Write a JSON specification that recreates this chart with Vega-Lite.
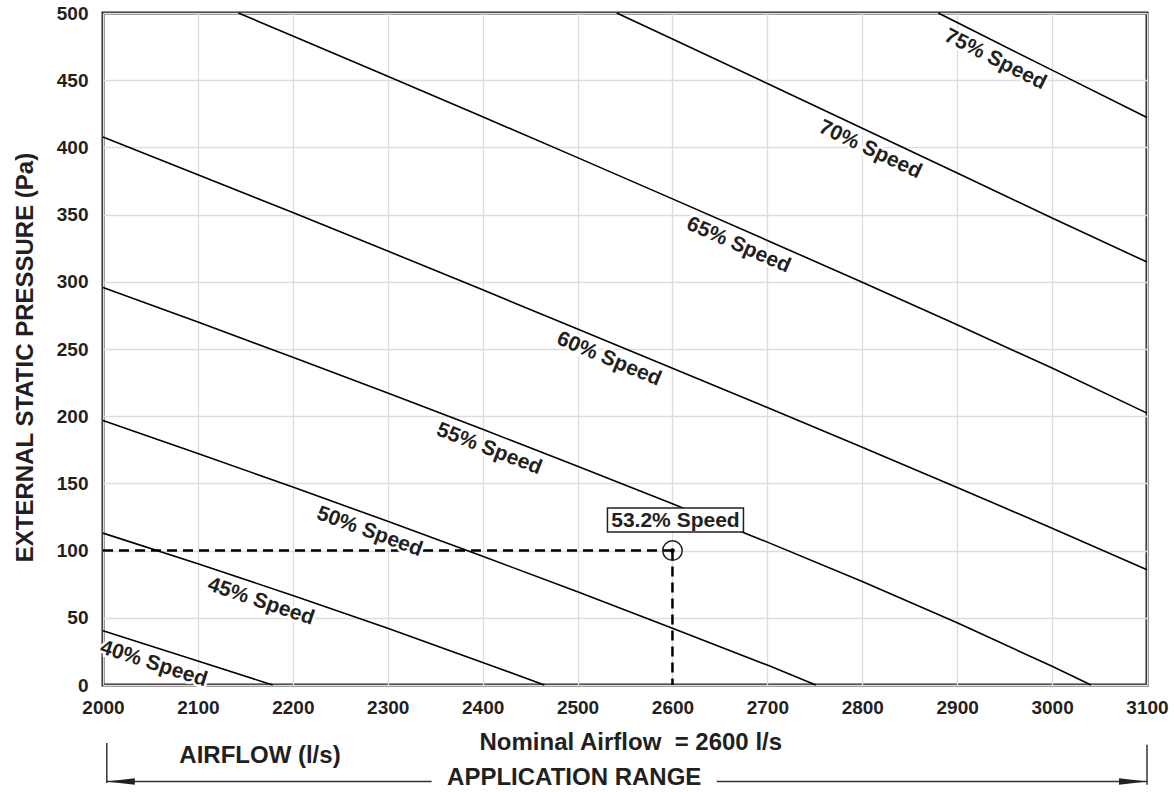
{
  "$schema": "https://vega.github.io/schema/vega-lite/v6.json",
  "width": 1044,
  "height": 672,
  "autosize": {"type": "none"},
  "padding": {"left": 103, "top": 13, "right": 27, "bottom": 107},
  "background": "white",
  "config": {
    "view": {"stroke": "#231f20", "strokeWidth": 3},
    "font": "Liberation Sans",
    "axis": {
      "labelFont": "Liberation Sans",
      "labelFontWeight": "bold",
      "labelFontSize": 19,
      "labelColor": "#231f20",
      "ticks": false,
      "domain": false,
      "grid": true,
      "gridColor": "#dddddd",
      "gridWidth": 1.3,
      "titleFont": "Liberation Sans",
      "titleFontWeight": "bold",
      "titleColor": "#231f20"
    }
  },
  "datasets": {
    "curves": [
      {"speed": "40% Speed", "airflow": 2000, "pressure": 40.3},
      {"speed": "40% Speed", "airflow": 2100, "pressure": 17.8},
      {"speed": "40% Speed", "airflow": 2178.8, "pressure": 0},
      {"speed": "45% Speed", "airflow": 2000, "pressure": 113},
      {"speed": "45% Speed", "airflow": 2100, "pressure": 90.2},
      {"speed": "45% Speed", "airflow": 2200, "pressure": 66.6},
      {"speed": "45% Speed", "airflow": 2300, "pressure": 42.3},
      {"speed": "45% Speed", "airflow": 2400, "pressure": 16.8},
      {"speed": "45% Speed", "airflow": 2465, "pressure": 0},
      {"speed": "50% Speed", "airflow": 2000, "pressure": 196.8},
      {"speed": "50% Speed", "airflow": 2100, "pressure": 172.3},
      {"speed": "50% Speed", "airflow": 2200, "pressure": 147.3},
      {"speed": "50% Speed", "airflow": 2300, "pressure": 121.8},
      {"speed": "50% Speed", "airflow": 2400, "pressure": 95.8},
      {"speed": "50% Speed", "airflow": 2500, "pressure": 69.3},
      {"speed": "50% Speed", "airflow": 2600, "pressure": 42.3},
      {"speed": "50% Speed", "airflow": 2700, "pressure": 14.8},
      {"speed": "50% Speed", "airflow": 2751, "pressure": 0},
      {"speed": "55% Speed", "airflow": 2000, "pressure": 295.8},
      {"speed": "55% Speed", "airflow": 2100, "pressure": 270.0},
      {"speed": "55% Speed", "airflow": 2200, "pressure": 243.8},
      {"speed": "55% Speed", "airflow": 2300, "pressure": 217.2},
      {"speed": "55% Speed", "airflow": 2400, "pressure": 190.2},
      {"speed": "55% Speed", "airflow": 2500, "pressure": 162.8},
      {"speed": "55% Speed", "airflow": 2600, "pressure": 134.8},
      {"speed": "55% Speed", "airflow": 2700, "pressure": 106.3},
      {"speed": "55% Speed", "airflow": 2800, "pressure": 77.0},
      {"speed": "55% Speed", "airflow": 2900, "pressure": 46.3},
      {"speed": "55% Speed", "airflow": 3000, "pressure": 13.9},
      {"speed": "55% Speed", "airflow": 3041, "pressure": 0},
      {"speed": "60% Speed", "airflow": 2000, "pressure": 407.7},
      {"speed": "60% Speed", "airflow": 2100, "pressure": 379.6},
      {"speed": "60% Speed", "airflow": 2200, "pressure": 351.6},
      {"speed": "60% Speed", "airflow": 2300, "pressure": 322.9},
      {"speed": "60% Speed", "airflow": 2400, "pressure": 294.0},
      {"speed": "60% Speed", "airflow": 2500, "pressure": 264.9},
      {"speed": "60% Speed", "airflow": 2600, "pressure": 235.7},
      {"speed": "60% Speed", "airflow": 2700, "pressure": 206.4},
      {"speed": "60% Speed", "airflow": 2800, "pressure": 176.9},
      {"speed": "60% Speed", "airflow": 2900, "pressure": 147.0},
      {"speed": "60% Speed", "airflow": 3000, "pressure": 116.7},
      {"speed": "60% Speed", "airflow": 3100, "pressure": 85.7},
      {"speed": "65% Speed", "airflow": 2142.6, "pressure": 500},
      {"speed": "65% Speed", "airflow": 2200, "pressure": 482.9},
      {"speed": "65% Speed", "airflow": 2300, "pressure": 453.0},
      {"speed": "65% Speed", "airflow": 2400, "pressure": 422.8},
      {"speed": "65% Speed", "airflow": 2500, "pressure": 392.4},
      {"speed": "65% Speed", "airflow": 2600, "pressure": 361.7},
      {"speed": "65% Speed", "airflow": 2700, "pressure": 330.8},
      {"speed": "65% Speed", "airflow": 2800, "pressure": 299.6},
      {"speed": "65% Speed", "airflow": 2900, "pressure": 268.0},
      {"speed": "65% Speed", "airflow": 3000, "pressure": 235.8},
      {"speed": "65% Speed", "airflow": 3100, "pressure": 202.3},
      {"speed": "70% Speed", "airflow": 2541.3, "pressure": 500},
      {"speed": "70% Speed", "airflow": 2600, "pressure": 480.6},
      {"speed": "70% Speed", "airflow": 2700, "pressure": 447.5},
      {"speed": "70% Speed", "airflow": 2800, "pressure": 414.3},
      {"speed": "70% Speed", "airflow": 2900, "pressure": 381.0},
      {"speed": "70% Speed", "airflow": 3000, "pressure": 347.4},
      {"speed": "70% Speed", "airflow": 3100, "pressure": 314.7},
      {"speed": "75% Speed", "airflow": 2880, "pressure": 500},
      {"speed": "75% Speed", "airflow": 2900, "pressure": 492.9},
      {"speed": "75% Speed", "airflow": 3000, "pressure": 457.5},
      {"speed": "75% Speed", "airflow": 3100, "pressure": 422.2}
    ],
    "labels": [
      {"label": "40% Speed", "pct": 40, "airflow": 2058.5, "pressure": 27.1},
      {"label": "45% Speed", "pct": 45, "airflow": 2171.7, "pressure": 73.3},
      {"label": "50% Speed", "pct": 50, "airflow": 2286.6, "pressure": 125.2},
      {"label": "55% Speed", "pct": 55, "airflow": 2413, "pressure": 186.6},
      {"label": "60% Speed", "pct": 60, "airflow": 2539.5, "pressure": 253.4},
      {"label": "65% Speed", "pct": 65, "airflow": 2676.4, "pressure": 338.1},
      {"label": "70% Speed", "pct": 70, "airflow": 2815.5, "pressure": 409.1},
      {"label": "75% Speed", "pct": 75, "airflow": 2947.7, "pressure": 476.0}
    ],
    "operating": [
      {"airflow": 2600, "pressure": 100, "label": "53.2% Speed"}
    ],
    "guides": [
      {"airflow": 2000, "pressure": 100, "airflow2": 2600, "pressure2": 100},
      {"airflow": 2600, "pressure": 100, "airflow2": 2600, "pressure2": 0}
    ],
    "notes": [
      {"text": "Nominal Airflow\u00a0 = 2600 l/s", "airflow": 2556.1, "pressure": -48.2},
      {"text": "AIRFLOW (l/s)", "airflow": 2165.4, "pressure": -58.1},
      {"text": "APPLICATION RANGE", "airflow": 2496.5, "pressure": -74.6}
    ],
    "range": [
      {"airflow": 2004, "pressure": -71.8, "airflow2": 2346.3, "pressure2": -71.8},
      {"airflow": 2646.6, "pressure": -71.8, "airflow2": 3100, "pressure2": -71.8},
      {"airflow": 2004, "pressure": -43.2, "airflow2": 2004, "pressure2": -73.0},
      {"airflow": 3100, "pressure": -44.5, "airflow2": 3100, "pressure2": -74.3}
    ],
    "arrows": [
      {"dir": "left", "airflow": 2004, "pressure": -71.8},
      {"dir": "right", "airflow": 3100, "pressure": -71.8}
    ]
  },
  "layer": [
    {
      "data": {"name": "curves"},
      "mark": {"type": "line", "color": "#000000", "strokeWidth": 1.6},
      "encoding": {
        "x": {
          "field": "airflow", "type": "quantitative",
          "scale": {"domain": [2000, 3100], "nice": false, "zero": false},
          "axis": {"values": [2000, 2100, 2200, 2300, 2400, 2500, 2600, 2700, 2800, 2900, 3000, 3100], "format": "d", "labelPadding": 13, "labelFlush": false, "labelOverlap": false, "title": null}
        },
        "y": {
          "field": "pressure", "type": "quantitative",
          "scale": {"domain": [0, 500], "nice": false, "zero": false},
          "axis": {"values": [0, 50, 100, 150, 200, 250, 300, 350, 400, 450, 500], "format": "d", "labelPadding": 15, "labelFlush": false, "labelOverlap": false, "title": "EXTERNAL STATIC PRESSURE (Pa)", "titleFontSize": 24, "titlePadding": 19, "titleY": 344}
        },
        "detail": {"field": "speed", "type": "nominal"}
      }
    },
    {
      "data": {"name": "guides"},
      "mark": {"type": "rule", "color": "#000000", "strokeWidth": 2.5, "strokeDash": [10, 6]},
      "encoding": {
        "x": {"field": "airflow", "type": "quantitative"},
        "x2": {"field": "airflow2"},
        "y": {"field": "pressure", "type": "quantitative"},
        "y2": {"field": "pressure2"}
      }
    },
    {
      "data": {"name": "labels"},
      "mark": {"type": "text", "font": "Liberation Sans", "fontWeight": "bold", "fontSize": 21, "baseline": "middle", "align": "center", "dy": 16, "fill": "white", "stroke": "white", "strokeWidth": 5},
      "encoding": {
        "x": {"field": "airflow", "type": "quantitative"},
        "y": {"field": "pressure", "type": "quantitative"},
        "text": {"field": "label"},
        "angle": {"field": "pct", "type": "quantitative", "scale": {"domain": [40, 45, 50, 55, 60, 65, 70, 75], "range": [17.7, 18.5, 19.9, 21.1, 22.5, 23.6, 25.2, 26.6], "zero": false, "nice": false}, "legend": null}
      }
    },
    {
      "data": {"name": "labels"},
      "mark": {"type": "text", "font": "Liberation Sans", "fontWeight": "bold", "fontSize": 21, "baseline": "middle", "align": "center", "dy": 16, "color": "#231f20"},
      "encoding": {
        "x": {"field": "airflow", "type": "quantitative"},
        "y": {"field": "pressure", "type": "quantitative"},
        "text": {"field": "label"},
        "angle": {"field": "pct", "type": "quantitative", "scale": {"domain": [40, 45, 50, 55, 60, 65, 70, 75], "range": [17.7, 18.5, 19.9, 21.1, 22.5, 23.6, 25.2, 26.6], "zero": false, "nice": false}, "legend": null}
      }
    },
    {
      "data": {"name": "operating"},
      "mark": {"type": "point", "shape": "circle", "size": 380, "filled": false, "stroke": "#231f20", "strokeWidth": 1.5, "opacity": 1},
      "encoding": {
        "x": {"field": "airflow", "type": "quantitative"},
        "y": {"field": "pressure", "type": "quantitative"}
      }
    },
    {
      "data": {"name": "operating"},
      "mark": {"type": "point", "shape": "circle", "size": 22, "filled": true, "color": "#000000", "opacity": 1},
      "encoding": {
        "x": {"field": "airflow", "type": "quantitative"},
        "y": {"field": "pressure", "type": "quantitative"}
      }
    },
    {
      "data": {"name": "operating"},
      "mark": {"type": "point", "shape": "M-1,-0.1765L1,-0.1765L1,0.1765L-1,0.1765Z", "size": 18496, "filled": true, "fill": "white", "stroke": "#231f20", "strokeWidth": 1.5, "opacity": 1, "xOffset": 3, "yOffset": -30.5},
      "encoding": {
        "x": {"field": "airflow", "type": "quantitative"},
        "y": {"field": "pressure", "type": "quantitative"}
      }
    },
    {
      "data": {"name": "operating"},
      "mark": {"type": "text", "font": "Liberation Sans", "fontWeight": "bold", "fontSize": 21, "baseline": "middle", "align": "center", "dx": 3, "dy": -29.6, "color": "#231f20"},
      "encoding": {
        "x": {"field": "airflow", "type": "quantitative"},
        "y": {"field": "pressure", "type": "quantitative"},
        "text": {"field": "label"}
      }
    },
    {
      "data": {"name": "notes"},
      "mark": {"type": "text", "font": "Liberation Sans", "fontWeight": "bold", "fontSize": 24, "baseline": "alphabetic", "align": "center", "color": "#231f20"},
      "encoding": {
        "x": {"field": "airflow", "type": "quantitative"},
        "y": {"field": "pressure", "type": "quantitative"},
        "text": {"field": "text"}
      }
    },
    {
      "data": {"name": "range"},
      "mark": {"type": "rule", "color": "#333333", "strokeWidth": 1.5},
      "encoding": {
        "x": {"field": "airflow", "type": "quantitative"},
        "x2": {"field": "airflow2"},
        "y": {"field": "pressure", "type": "quantitative"},
        "y2": {"field": "pressure2"}
      }
    },
    {
      "data": {"name": "arrows"},
      "mark": {"type": "point", "size": 784, "filled": true, "color": "#231f20", "opacity": 1},
      "encoding": {
        "x": {"field": "airflow", "type": "quantitative"},
        "y": {"field": "pressure", "type": "quantitative"},
        "shape": {"field": "dir", "type": "nominal", "scale": {"domain": ["left", "right"], "range": ["M0,0L2,-0.24L2,0.24Z", "M0,0L-2,-0.24L-2,0.24Z"]}, "legend": null}
      }
    }
  ]
}
